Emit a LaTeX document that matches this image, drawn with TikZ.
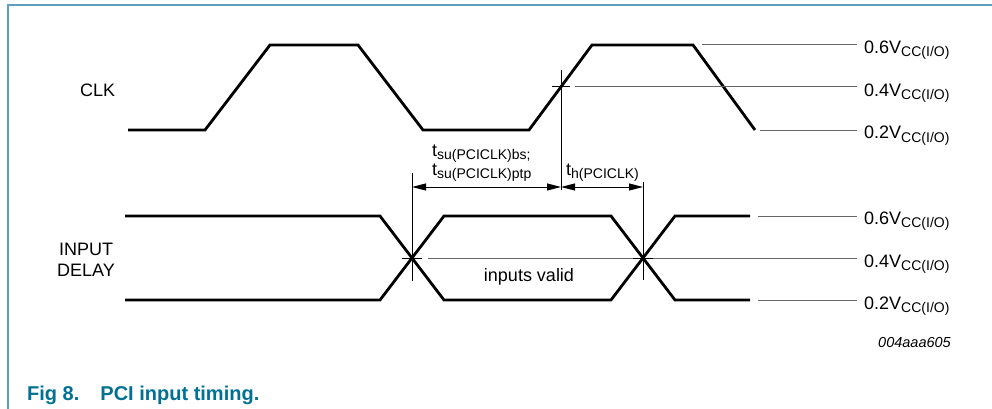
\documentclass[tikz,border=0pt]{standalone}
\usepackage{fontspec}
\setmainfont{Liberation Sans}
\usetikzlibrary{arrows.meta}
\definecolor{framecol}{RGB}{92,160,188}
\definecolor{titlecol}{RGB}{0,113,148}
\newcommand{\lowsub}[1]{\raisebox{-3pt}{\fontsize{14}{14}\selectfont #1}}
\newcommand{\vcc}[1]{#1V\lowsub{CC(I/O)}}
\begin{document}
\begin{tikzpicture}[
    x=1pt, y=-1pt,
    every node/.style={inner sep=0pt, font=\fontsize{18}{21}\selectfont},
    wave/.style={draw, line width=2.8pt},
    level line/.style={draw, black!60, line width=1pt, shorten >=7pt},
    marker/.style={draw, line width=1pt},
    dim arrow/.style={draw, line width=1pt, {Triangle[length=14pt,width=7pt]}-{Triangle[length=14pt,width=7pt]}},
    ]
\useasboundingbox (0,0) rectangle (992,409);
\draw[framecol, line width=1.5pt] (8,409) -- (8,5) -- (992,5);
\node[anchor=base west] (clk) at (80,96) {CLK};
\node[align=center] (indelay) at (86,259.5) {INPUT\\DELAY};
\draw[wave] (128,130) -- (205,130) -- (270,45) -- (358,45) -- (423,130) -- (529,130) -- (592,45) -- (693,45) -- (755,130);
\draw[wave] (125,216) -- (380,216) -- (444,300) -- (611,300) -- (675,216) -- (750,216);
\draw[wave] (125,300) -- (380,300) -- (444,216) -- (611,216) -- (675,300) -- (750,300);
\node[anchor=base west] (clkHi) at (864,54) {\vcc{0.6}};
\node[anchor=base west] (clkMid) at (864,96) {\vcc{0.4}};
\node[anchor=base west] (clkLo) at (864,139) {\vcc{0.2}};
\node[anchor=base west] (inHi) at (864,224) {\vcc{0.6}};
\node[anchor=base west] (inMid) at (864,267) {\vcc{0.4}};
\node[anchor=base west] (inLo) at (864,309) {\vcc{0.2}};
\coordinate (clkref) at (561,87);
\coordinate (setup) at (412,258);
\coordinate (hold) at (643,258);
\coordinate (clkHiL) at (702,45);
\coordinate (clkLoL) at (760,130);
\coordinate (inHiL) at (758,216);
\coordinate (inLoL) at (758,300);
\draw[level line] (clkHiL) -- (clkHiL -| clkHi.west);
\draw[level line] ([xshift=14pt]clkref) -- (clkref -| clkMid.west);
\draw[level line] (clkLoL) -- (clkLoL -| clkLo.west);
\draw[level line] (inHiL) -- (inHiL -| inHi.west);
\draw[level line] ([xshift=16pt]setup) -- (setup -| inMid.west);
\draw[level line] (inLoL) -- (inLoL -| inLo.west);
\draw[marker] ([yshift=17pt]clkref) -- ([yshift=-103pt]clkref);
\draw[marker] ([xshift=-9pt]clkref) -- ([xshift=9pt]clkref);
\draw[marker] ([yshift=85pt]setup) -- ([yshift=-23pt]setup);
\draw[marker] ([xshift=-10pt]setup) -- ([xshift=10pt]setup);
\draw[marker] ([yshift=76pt]hold) -- ([yshift=-22pt]hold);
\draw[marker] ([xshift=-10pt]hold) -- ([xshift=10pt]hold);
\coordinate (dimL) at (412,187);
\coordinate (dimM) at (561,187);
\coordinate (dimR) at (643,187);
\draw[dim arrow] (dimL) -- (dimM);
\draw[dim arrow] (dimM) -- (dimR);
\node[anchor=base west] (tsuA) at (432,156) {t\lowsub{su(PCICLK)bs;}};
\node[anchor=base west] (tsuB) at (432,175) {t\lowsub{su(PCICLK)ptp}};
\node[anchor=base west] (th) at (566,175) {t\lowsub{h(PCICLK)}};
\node[anchor=base] (valid) at (529,281) {inputs valid};
\node[anchor=base east, font=\fontsize{14.5}{16}\selectfont\itshape] (figno) at (951,347) {004aaa605};
\node[anchor=base west, text=titlecol, font=\fontsize{20}{24}\selectfont\bfseries] (title) at (27,400) {Fig 8.\hspace{21pt}PCI input timing.};
\end{tikzpicture}
\end{document}
